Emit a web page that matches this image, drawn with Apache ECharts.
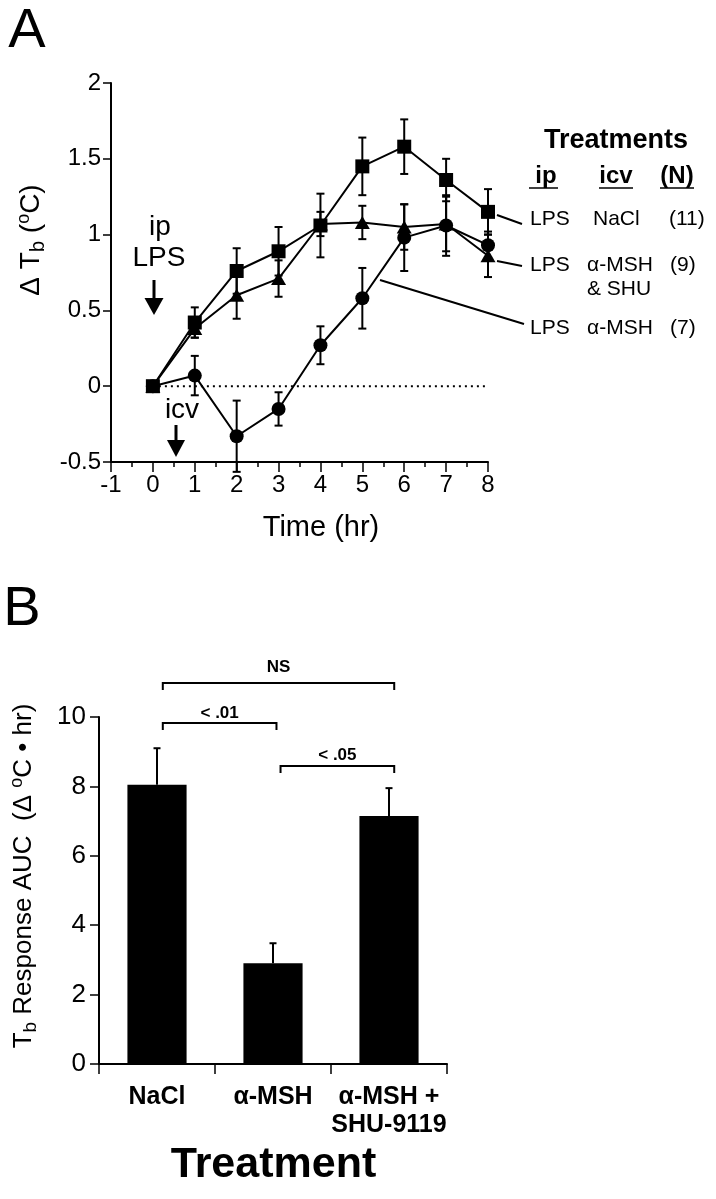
<!DOCTYPE html>
<html><head><meta charset="utf-8">
<script src="https://cdn.jsdelivr.net/npm/echarts@6/dist/echarts.min.js"></script>
<style>html,body{margin:0;padding:0;background:#fff}#c{width:716px;height:1199px}</style>
</head><body><div id="c"></div>
<script>
// ---------- Panel A data ----------
const hours = [0, 1, 2, 3, 4, 5, 6, 7, 8];
const naclMean = [0, 0.42, 0.76, 0.89, 1.06, 1.45, 1.58, 1.36, 1.15];
const naclErr  = [0, 0.10, 0.15, 0.16, 0.21, 0.19, 0.18, 0.14, 0.15];
const shuMean  = [0, 0.38, 0.60, 0.71, 1.07, 1.08, 1.05, 1.07, 0.86];
const shuErr   = [0, 0.06, 0.155, 0.12, 0.08, 0.11, 0.15, 0.18, 0.14];
const mshMean  = [0, 0.07, -0.33, -0.15, 0.27, 0.58, 0.98, 1.06, 0.93];
const mshErr   = [0, 0.13, 0.235, 0.11, 0.125, 0.20, 0.22, 0.20, 0.09];
const yTicksA  = [-0.5, 0, 0.5, 1, 1.5, 2];
const xTicksA  = [-1, 0, 1, 2, 3, 4, 5, 6, 7, 8];
const zeroLineX = [0, 8];

// ---------- Panel B data ----------
const aucCategories = ['NaCl', 'α-MSH', 'α-MSH +\nSHU-9119'];
const aucMean = [8.05, 2.90, 7.15];
const aucErr  = [1.05, 0.58, 0.80];
const yTicksB = [0, 2, 4, 6, 8, 10];
const compFrom = [0, 0, 1];
const compTo   = [2, 1, 2];
const compText = ['NS', '< .01', '< .05'];
const compLevel = [10.98, 9.83, 8.59];

// ---------- styling / layout (not data) ----------
const F = "'Liberation Sans', Arial, Helvetica, sans-serif";
const bracketStyle = [
  {dx1: 0.05, dx2: 0.045, gap: 16},
  {dx1: 0.05, dx2: 0.03, gap: 10},
  {dx1: 0.065, dx2: 0.045, gap: 11}
];

const chart = echarts.init(document.getElementById('c'), null, {renderer: 'canvas'});

function errSeriesA(mean, err, z) {
  return {
    type: 'custom', xAxisIndex: 0, yAxisIndex: 0, z: z, silent: true, clip: false,
    encode: {x: 0, y: 1},
    data: hours.map((h, i) => [h, mean[i], err[i]]),
    renderItem(params, api) {
      const x = api.value(0), m = api.value(1), e = api.value(2);
      if (!e) return null;
      const t = api.coord([x, m + e]), b = api.coord([x, m - e]);
      const w = 4, st = {stroke: '#000', lineWidth: 2};
      return {type: 'group', children: [
        {type: 'line', shape: {x1: t[0], y1: t[1], x2: b[0], y2: b[1]}, style: st},
        {type: 'line', shape: {x1: t[0] - w, y1: t[1], x2: t[0] + w, y2: t[1]}, style: st},
        {type: 'line', shape: {x1: b[0] - w, y1: b[1], x2: b[0] + w, y2: b[1]}, style: st}
      ]};
    }
  };
}
function lineSeriesA(name, mean, symbol, size, z) {
  return {
    name, type: 'line', xAxisIndex: 0, yAxisIndex: 0, z: z,
    data: hours.map((h, i) => [h, mean[i]]),
    symbol, symbolSize: size, showAllSymbol: true,
    lineStyle: {color: '#000', width: 2},
    itemStyle: {color: '#000', borderWidth: 0},
    emphasis: {disabled: true}, silent: true
  };
}

const txt = (x, y, text, size, opts = {}) => Object.assign({
  type: 'text', x, y,
  style: Object.assign({
    text, fill: '#000', fontFamily: F, fontSize: size,
    fontWeight: opts.bold ? 'bold' : 'normal',
    align: opts.align || 'center', textAlign: opts.align || 'center',
    verticalAlign: 'middle', textVerticalAlign: 'middle'
  }, opts.style || {})
}, opts.el || {});
const seg = (x1, y1, x2, y2, w) => ({type: 'line', shape: {x1, y1, x2, y2}, style: {stroke: '#000', lineWidth: w || 1.5}});
const arrow = (x, y1, y2, hh, hw) => ([
  {type: 'line', shape: {x1: x, y1: y1, x2: x, y2: y2 - hh + 1}, style: {stroke: '#000', lineWidth: 3}},
  {type: 'polygon', shape: {points: [[x - hw, y2 - hh], [x + hw, y2 - hh], [x, y2]]}, style: {fill: '#000'}}
]);

const option = {
  animation: false,
  backgroundColor: '#fff',
  textStyle: {fontFamily: F, color: '#000'},
  grid: [
    {left: 111, top: 83, width: 377, height: 379, outerBoundsMode: 'none', containLabel: false},
    {left: 99, top: 717, width: 348, height: 347, outerBoundsMode: 'none', containLabel: false}
  ],
  xAxis: [
    {
      type: 'value', gridIndex: 0, min: xTicksA[0], max: xTicksA[xTicksA.length - 1], interval: 1,
      axisLine: {onZero: false, lineStyle: {color: '#000', width: 2}},
      axisTick: {show: true, inside: false, length: 10, lineStyle: {color: '#000', width: 1.5}},
      minorTick: {show: true, splitNumber: 2, length: 5, lineStyle: {color: '#000', width: 1.5}},
      splitLine: {show: false}, minorSplitLine: {show: false},
      axisLabel: {color: '#000', fontSize: 24, fontFamily: F, margin: 11, showMinLabel: true, showMaxLabel: true}
    },
    {
      type: 'category', gridIndex: 1, data: aucCategories,
      axisLine: {lineStyle: {color: '#000', width: 2}},
      axisTick: {show: true, length: 10, alignWithLabel: false, lineStyle: {color: '#000', width: 1.5}},
      axisLabel: {color: '#000', fontSize: 25, fontWeight: 'bold', fontFamily: F, margin: 19, lineHeight: 28, interval: 0}
    },
    {
      type: 'value', gridIndex: 1, min: -0.5, max: 2.5, show: false
    }
  ],
  yAxis: [
    {
      type: 'value', gridIndex: 0, min: yTicksA[0], max: yTicksA[yTicksA.length - 1], interval: 0.5,
      axisLine: {show: true, onZero: false, lineStyle: {color: '#000', width: 2}},
      axisTick: {show: true, length: 8, lineStyle: {color: '#000', width: 1.5}},
      splitLine: {show: false},
      axisLabel: {color: '#000', fontSize: 24, fontFamily: F, margin: 10}
    },
    {
      type: 'value', gridIndex: 1, min: yTicksB[0], max: yTicksB[yTicksB.length - 1], interval: 2,
      axisLine: {show: true, onZero: false, lineStyle: {color: '#000', width: 2}},
      axisTick: {show: true, length: 9, lineStyle: {color: '#000', width: 1.5}},
      splitLine: {show: false},
      axisLabel: {color: '#000', fontSize: 26, fontFamily: F, margin: 13}
    }
  ],
  series: [
    {
      type: 'line', xAxisIndex: 0, yAxisIndex: 0, z: 1, silent: true, symbol: 'none',
      data: zeroLineX.map(x => [x, 0]),
      lineStyle: {color: '#000', width: 2, type: [2, 4]}
    },
    errSeriesA(mshMean, mshErr, 2),
    errSeriesA(shuMean, shuErr, 2),
    errSeriesA(naclMean, naclErr, 2),
    lineSeriesA('α-MSH', mshMean, 'circle', 14, 3),
    lineSeriesA('α-MSH & SHU', shuMean, 'triangle', [15, 13], 4),
    lineSeriesA('NaCl', naclMean, 'rect', 14, 5),
    {
      type: 'bar', xAxisIndex: 1, yAxisIndex: 1, data: aucMean, barWidth: '51%',
      itemStyle: {color: '#000'}, silent: true, z: 2
    },
    {
      type: 'custom', xAxisIndex: 1, yAxisIndex: 1, z: 3, silent: true, clip: false,
      encode: {x: 0, y: 1},
      data: aucMean.map((v, i) => [i, v, aucErr[i]]),
      renderItem(params, api) {
        const i = api.value(0), m = api.value(1), e = api.value(2);
        const t = api.coord([i, m + e]), b = api.coord([i, m]);
        const w = 3.5, st = {stroke: '#000', lineWidth: 2};
        return {type: 'group', children: [
          {type: 'line', shape: {x1: t[0], y1: t[1], x2: b[0], y2: b[1]}, style: st},
          {type: 'line', shape: {x1: t[0] - w, y1: t[1], x2: t[0] + w, y2: t[1]}, style: st}
        ]};
      }
    },
    {
      type: 'custom', xAxisIndex: 2, yAxisIndex: 1, z: 3, silent: true, clip: false,
      encode: {x: 0, y: 1},
      data: compFrom.map((f, i) => [f, compLevel[i], compTo[i]]),
      renderItem(params, api) {
        const k = params.dataIndex, s = bracketStyle[k];
        const a = api.coord([api.value(0) + s.dx1, api.value(1)]);
        const b = api.coord([api.value(2) + s.dx2, api.value(1)]);
        return {type: 'group', children: [
          {type: 'polyline', shape: {points: [[a[0], a[1] + 7], [a[0], a[1]], [b[0], b[1]], [b[0], b[1] + 7]]},
           style: {stroke: '#000', lineWidth: 2, fill: null}},
          {type: 'text', x: (a[0] + b[0]) / 2, y: a[1] - s.gap,
           style: {text: compText[k], fontFamily: F, fontSize: 17, fontWeight: 'bold', fill: '#000',
                   align: 'center', verticalAlign: 'middle', textAlign: 'center', textVerticalAlign: 'middle'}}
        ]};
      }
    }
  ],
  graphic: {elements: [
    // panel labels
    txt(27, 32, 'A', 56),
    txt(22, 610, 'B', 56),
    // panel A annotations
    txt(160, 227, 'ip', 28),
    txt(159, 258, 'LPS', 28),
    ...arrow(154, 280, 315, 17, 9.5),
    txt(182, 410, 'icv', 28),
    ...arrow(176, 425, 457, 17, 9),
    txt(321, 528, 'Time (hr)', 29),
    {
      type: 'text', x: 31, y: 240, rotation: Math.PI / 2,
      style: {
        text: '{n|Δ T}{s|b}{n| (}{p|o}{n|C)}', fontFamily: F, fill: '#000',
        align: 'center', verticalAlign: 'middle', textAlign: 'center', textVerticalAlign: 'middle',
        rich: {
          n: {fontSize: 28, fontFamily: F, lineHeight: 30, fill: '#000'},
          s: {fontSize: 20, fontFamily: F, lineHeight: 22, padding: [14, 0, 0, 0], fill: '#000'},
          p: {fontSize: 18, fontFamily: F, lineHeight: 20, padding: [0, 0, 14, 0], fill: '#000'}
        }
      }
    },
    // legend block
    txt(616, 141, 'Treatments', 27, {bold: true}),
    txt(546, 176, 'ip', 24, {bold: true}),
    txt(616, 176, 'icv', 24, {bold: true}),
    txt(677, 176, '(N)', 24, {bold: true}),
    seg(529, 188, 558, 188, 1.5),
    seg(599, 188, 633, 188, 1.5),
    seg(660, 188, 694, 188, 1.5),
    txt(530, 219, 'LPS', 21, {align: 'left'}),
    txt(593, 219, 'NaCl', 21, {align: 'left'}),
    txt(669, 219, '(11)', 21, {align: 'left'}),
    txt(530, 265.5, 'LPS', 21, {align: 'left'}),
    txt(587, 265.5, 'α-MSH', 21, {align: 'left'}),
    txt(670, 265.5, '(9)', 21, {align: 'left'}),
    txt(587, 289.5, '& SHU', 21, {align: 'left'}),
    txt(530, 328, 'LPS', 21, {align: 'left'}),
    txt(587, 328, 'α-MSH', 21, {align: 'left'}),
    txt(670, 328, '(7)', 21, {align: 'left'}),
    seg(497, 215, 522, 224, 2),
    seg(497, 261, 522, 266, 2),
    seg(380, 280, 524, 324, 2),
    // panel B titles
    {
      type: 'text', x: 24, y: 876, rotation: Math.PI / 2,
      style: {
        text: '{n|T}{s|b}{n| Response AUC  (Δ }{p|o}{n|C • hr)}', fontFamily: F, fill: '#000',
        align: 'center', verticalAlign: 'middle', textAlign: 'center', textVerticalAlign: 'middle',
        rich: {
          n: {fontSize: 26, fontFamily: F, lineHeight: 28, fill: '#000'},
          s: {fontSize: 19, fontFamily: F, lineHeight: 20, padding: [13, 0, 0, 0], fill: '#000'},
          p: {fontSize: 18, fontFamily: F, lineHeight: 20, padding: [0, 0, 14, 0], fill: '#000'}
        }
      }
    },
    txt(273.5, 1165, 'Treatment', 43, {bold: true})
  ]}
};
chart.setOption(option);
</script></body></html>
